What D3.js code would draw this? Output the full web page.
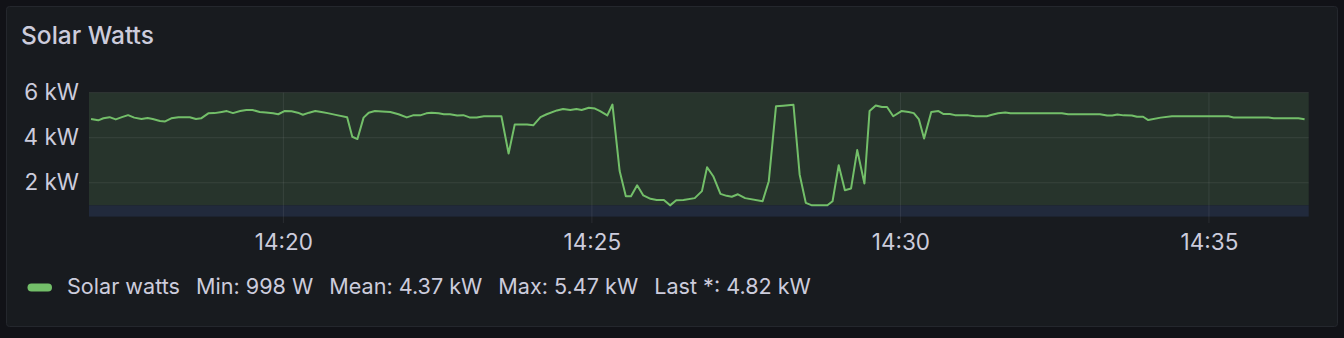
<!DOCTYPE html>
<html>
<head>
	<title>Solar Watts</title>
	<meta charset="utf-8">
	<script src="https://d3js.org/d3.v7.min.js"></script>
	<style>
		body { margin: 0; background: #111217; }
		svg { display: block; font-family: Inter, "Noto Sans", sans-serif; }
	</style>
</head>
<body>
	<script type="text/javascript">
		var width = 1344
		var height = 338

		// samples (time, watts)
		var times = [
			"14:16:53","14:17:00","14:17:05","14:17:11","14:17:17","14:17:23","14:17:29","14:17:35","14:17:42","14:17:48",
			"14:17:53","14:18:00","14:18:05","14:18:11","14:18:18","14:18:29","14:18:35","14:18:40","14:18:47","14:18:53",
			"14:19:00","14:19:05","14:19:11","14:19:18","14:19:24","14:19:30","14:19:37","14:19:43","14:19:50","14:19:55",
			"14:20:01","14:20:08","14:20:14","14:20:19","14:20:25","14:20:31","14:20:37","14:20:43","14:20:52","14:21:02",
			"14:21:07","14:21:12","14:21:18","14:21:23","14:21:29","14:21:36","14:21:44","14:21:52","14:22:00","14:22:06",
			"14:22:13","14:22:19","14:22:24","14:22:31","14:22:36","14:22:42","14:22:49","14:22:55","14:23:01","14:23:08",
			"14:23:15","14:23:23","14:23:32","14:23:39","14:23:45","14:23:57","14:24:03","14:24:10","14:24:16","14:24:26",
			"14:24:32","14:24:39","14:24:45","14:24:50","14:24:57","14:25:03","14:25:08","14:25:15","14:25:20","14:25:27",
			"14:25:33","14:25:38","14:25:44","14:25:50","14:25:57","14:26:03","14:26:10","14:26:16","14:26:22","14:26:29",
			"14:26:40","14:26:47","14:26:52","14:26:58","14:27:05","14:27:11","14:27:16","14:27:22","14:27:29","14:27:46",
			"14:27:52","14:27:59","14:28:06","14:28:16","14:28:22","14:28:28","14:28:34","14:28:49","14:28:54","14:29:00",
			"14:29:06","14:29:12","14:29:18","14:29:25","14:29:30","14:29:36","14:29:42","14:29:47","14:29:53","14:30:01",
			"14:30:08","14:30:13","14:30:18","14:30:23","14:30:30","14:30:37","14:30:42","14:30:48","14:30:53","14:31:06",
			"14:31:13","14:31:24","14:31:29","14:31:35","14:31:42","14:31:47","14:32:01","14:32:17","14:32:37","14:32:43",
			"14:32:50","14:33:14","14:33:21","14:33:26","14:33:31","14:33:37","14:33:45","14:33:50","14:33:56","14:34:01",
			"14:34:13","14:34:24","14:34:50","14:35:19","14:35:24","14:35:58","14:36:03","14:36:27","14:36:33"
		]
		var watts = [
			4830,4770,4860,4910,4810,4910,5000,4890,4830,4870,
			4830,4740,4720,4860,4910,4910,4830,4860,5080,5090,
			5140,5180,5090,5180,5230,5230,5140,5120,5080,5040,
			5180,5170,5110,5020,5110,5180,5140,5090,5000,4910,
			4040,3940,4890,5110,5180,5160,5140,5040,4900,4990,
			4990,5080,5110,5080,5040,5040,4980,5000,4900,4900,
			4950,4950,4950,3300,4590,4590,4550,4910,5040,5210,
			5270,5230,5270,5230,5330,5290,5180,4990,5470,2520,
			1400,1400,1890,1440,1290,1240,1240,998,1230,1240,
			1320,1630,2690,2290,1510,1420,1380,1490,1320,1180,
			2070,5390,5420,5460,2370,1110,1000,1000,1180,2780,
			1670,1750,3450,1970,5180,5430,5360,5360,4950,5180,
			5140,5090,4810,3960,5140,5180,5050,5050,5000,4990,
			4950,4950,5020,5080,5120,5080,5080,5080,5080,5040,
			5040,5040,4980,4980,5030,4990,4980,4930,4930,4780,
			4890,4950,4950,4950,4900,4900,4860,4860,4820
		]
		var timeRange = ["14:16:51", "14:36:37"]
		var yTicks = [2000, 4000, 6000]
		var yRange = [500, 6000]
		var threshold = 1000
		var seriesName = "Solar watts"
		var legendStats = ["Min: 998 W", "Mean: 4.37 kW", "Max: 5.47 kW", "Last *: 4.82 kW"]

		var parseTime = d3.timeParse("%H:%M:%S")
		var data = times.map((t, i) => ({t: parseTime(t), v: watts[i]}))

		var plotLeft = 89, plotRight = 1308.7, plotTop = 92.6, plotBottom = 216.6

		var svg = d3.select("body").append("svg")
		  .attr("width", width)
		  .attr("height", height)

		// panel
		svg.append("rect")
			.attr("x", 6.5).attr("y", 6.5)
			.attr("width", 1331).attr("height", 320)
			.attr("rx", 3)
			.attr("fill", "#181b1f")
			.attr("stroke", "#24272d")

		svg.append("text")
			.attr("x", 21).attr("y", 44)
			.attr("font-size", 24.5)
			.attr("font-weight", 500)
			.attr("fill", "#ccccdc")
			.text("Solar Watts")

		var x = d3.scaleTime().domain(timeRange.map(parseTime)).range([plotLeft, plotRight])
		var y = d3.scaleLinear().domain(yRange).range([plotBottom, plotTop])

		// threshold regions
		svg.append("rect")
			.attr("x", plotLeft).attr("y", plotTop)
			.attr("width", plotRight - plotLeft).attr("height", y(threshold) - plotTop)
			.attr("fill", "#27342c")
		svg.append("rect")
			.attr("x", plotLeft).attr("y", y(threshold))
			.attr("width", plotRight - plotLeft).attr("height", plotBottom - y(threshold))
			.attr("fill", "#212a3c")

		var xTicks = x.ticks(d3.timeMinute.every(5))

		// grid
		svg.append("g").selectAll("line")
		  .data(yTicks)
		  .enter()
		  .append("line")
			.attr("x1", plotLeft).attr("x2", plotRight)
			.attr("y1", d => y(d)).attr("y2", d => y(d))
			.attr("stroke", "rgba(204,204,220,0.1)")
		svg.append("g").selectAll("line")
		  .data(xTicks)
		  .enter()
		  .append("line")
			.attr("x1", d => x(d)).attr("x2", d => x(d))
			.attr("y1", plotTop).attr("y2", 223)
			.attr("stroke", "rgba(204,204,220,0.1)")

		// axes
		svg.append("g")
			.attr("transform", "translate(" + plotLeft + ",0)")
			.call(d3.axisLeft(y).tickValues(yTicks).tickSize(0).tickPadding(10)
				.tickFormat(d => d / 1000 + " kW"))
		svg.append("g")
			.attr("transform", "translate(0," + plotBottom + ")")
			.call(d3.axisBottom(x).tickValues(xTicks).tickSize(0).tickPadding(17)
				.tickFormat(d3.timeFormat("%H:%M")))
		svg.selectAll(".domain").remove()
		svg.selectAll(".tick text")
			.attr("font-family", "Inter, 'Noto Sans', sans-serif")
			.attr("font-size", 22.5)
			.attr("fill", "#ccccdc")

		// series
		var line = d3.line().x(d => x(d.t)).y(d => y(d.v))
		svg.append("path")
			.datum(data)
			.attr("d", line)
			.attr("fill", "none")
			.attr("stroke", "#73bf69")
			.attr("stroke-width", 2)
			.attr("stroke-linejoin", "round")

		// legend
		svg.append("rect")
			.attr("x", 27.5).attr("y", 283.5)
			.attr("width", 24.5).attr("height", 8)
			.attr("rx", 4)
			.attr("fill", "#73bf69")

		var lx = 67
		;[seriesName].concat(legendStats).forEach(function(s) {
			var t = svg.append("text")
				.attr("x", lx).attr("y", 294)
				.attr("font-size", 21.6)
				.attr("fill", "#ccccdc")
				.text(s)
			lx += t.node().getComputedTextLength() + 16
		})
	</script>
</body>
</html>
